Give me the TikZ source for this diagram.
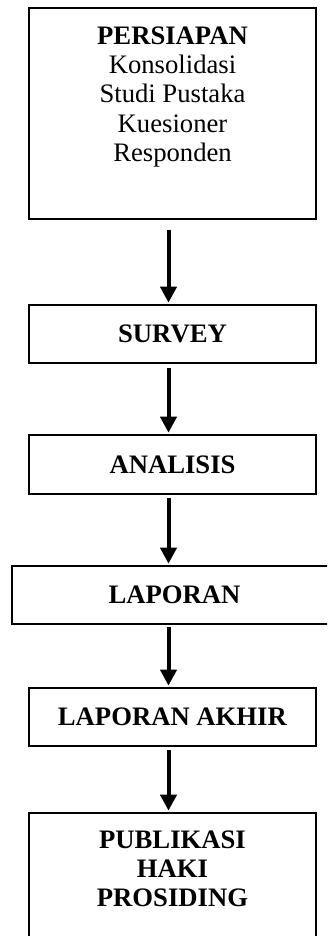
\documentclass[tikz,border=0pt]{standalone}
\usepackage{fontspec}
\setmainfont{Liberation Serif}
\usetikzlibrary{arrows.meta}
\begin{document}
\begin{tikzpicture}[x=0.45pt,y=-0.45pt]
		\tikzstyle{every node}=[font=\fontsize{12}{13.2}\selectfont]
		\tikzstyle{kotak}=[draw, line width=0.9pt, minimum width=129.15pt, inner sep=0pt]
		\tikzstyle{panah}=[line width=1.8pt, -{Triangle[width=7.2pt,length=7.2pt]}, shorten >=0.6pt]
		
		\clip (0,0) rectangle (327,936);
		
		% kotak
		\node[kotak, minimum height=94.95pt] (persiapan) at (172.5,113.5) {};
		\node[kotak, minimum height=26.1pt] (survey) at (172.5,334) {\textbf{SURVEY}};
		\node[kotak, minimum height=26.5pt] (analisis) at (172.5,464.5) {\textbf{ANALISIS}};
		\node[kotak, minimum height=26.1pt, minimum width=220pt] (laporan) at (256,595) {};
		\node[inner sep=0pt] (laporanteks) at (174.5,595) {\textbf{LAPORAN}};
		\node[kotak, minimum height=26.1pt] (akhir) at (172.5,717) {\textbf{LAPORAN AKHIR}};
		\node[kotak, minimum height=63pt] (publikasi) at (172.5,883) {};
		
		\node[anchor=north, align=center, inner sep=0pt] (persiapanteks) at ([yshift=-8.55pt]persiapan.north)
			{\textbf{PERSIAPAN}\\Konsolidasi\\Studi Pustaka\\Kuesioner\\Responden};
		\node[anchor=north, align=center, inner sep=0pt] (publikasiteks) at ([yshift=-8.1pt]publikasi.north)
			{\textbf{PUBLIKASI}\\\textbf{HAKI}\\\textbf{PROSIDING}};
		
		% panah
		\draw[panah] ([xshift=-1.8pt,yshift=-4.5pt]persiapan.south) -- ([xshift=-1.8pt]survey.north);
		\draw[panah] ([xshift=-1.8pt,yshift=-1.6pt]survey.south) -- ([xshift=-1.8pt]analisis.north);
		\draw[panah] ([xshift=-1.8pt,yshift=-1.4pt]analisis.south) -- ([xshift=-1.8pt]analisis.south |- laporan.north);
		\draw[panah] ([xshift=-1.8pt,yshift=-1pt]akhir.north |- laporan.south) -- ([xshift=-1.8pt]akhir.north);
		\draw[panah] ([xshift=-1.8pt,yshift=-1.4pt]akhir.south) -- ([xshift=-1.8pt]publikasi.north);
		
		\end{tikzpicture}
\end{document}
